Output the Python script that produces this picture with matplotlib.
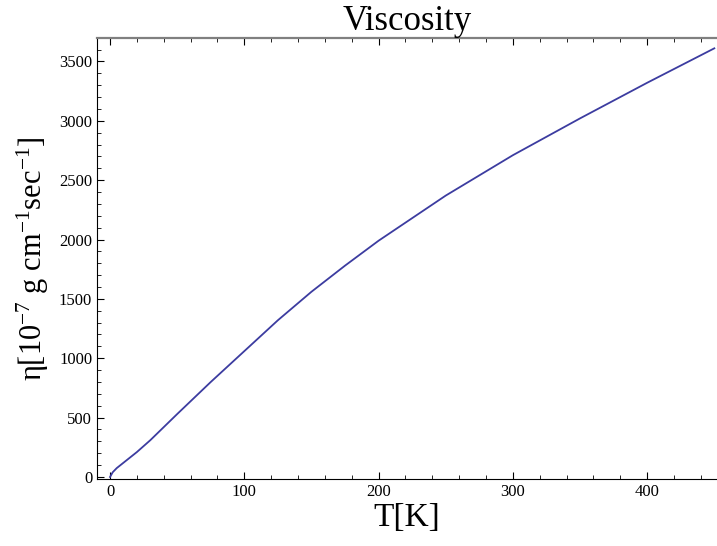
"""Viscosity vs temperature."""

import matplotlib.pyplot as plt
import numpy as np

temp = [0, 2, 5, 10, 20, 30, 50, 75, 100, 125, 150, 175, 200, 250, 300, 350, 400, 450]
eta = [0, 40, 75, 120, 210, 310, 530, 800, 1060, 1320, 1560, 1780, 1990, 2370, 2710,
       3020, 3320, 3610]

x_major = [0, 100, 200, 300, 400]
y_major = [0, 500, 1000, 1500, 2000, 2500, 3000, 3500]


def main():
    plt.rcParams["font.family"] = ["Liberation Serif", "DejaVu Serif"]
    plt.rcParams["mathtext.fontset"] = "custom"
    plt.rcParams["mathtext.rm"] = "Liberation Serif"
    plt.rcParams["mathtext.it"] = "Liberation Serif:italic"

    fig = plt.figure(figsize=(7.17, 5.46), dpi=100)
    ax = fig.add_axes([0.1353, 0.1227, 0.8647, 0.8077])

    ax.plot(temp, eta, color="#3c3ca0", lw=1.3)

    ax.set_xlim(-9.7, 452)
    ax.set_ylim(-17, 3697)
    ax.set_xticks(x_major)
    ax.set_yticks(y_major)
    ax.set_xticks(np.arange(0, 452, 20), minor=True)
    ax.set_yticks(np.arange(0, 3697, 100), minor=True)
    ax.tick_params(which="both", direction="in", top=True, right=False,
                   labelsize=12)
    ax.tick_params(which="major", length=5, width=0.8)
    ax.tick_params(which="minor", length=3, width=0.6)

    ax.spines["right"].set_visible(False)
    ax.spines["top"].set_color("#808080")
    ax.spines["top"].set_linewidth(1.6)

    ax.set_title("Viscosity", fontsize=25, pad=2)
    ax.set_xlabel("T[K]", fontsize=24, labelpad=2)
    ax.set_ylabel(r"η[10$^{-7}$ g cm$^{-1}$sec$^{-1}$]", fontsize=22, labelpad=6)

    fig.savefig("out.png", dpi=100)


if __name__ == "__main__":
    main()
